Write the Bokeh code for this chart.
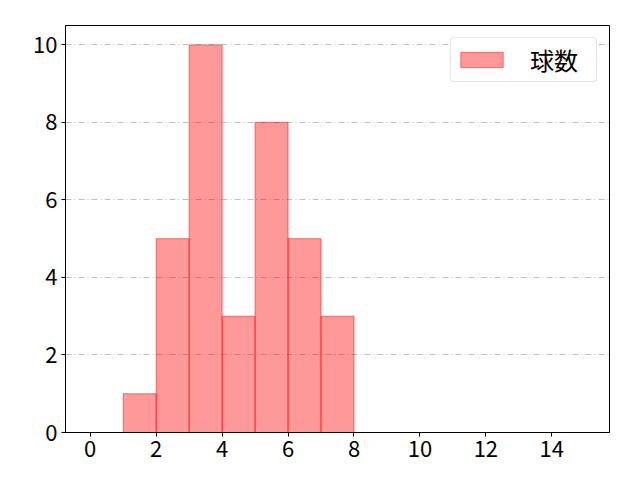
from bokeh.plotting import figure
from bokeh.models import Range1d, FixedTicker, Legend, LegendItem
from bokeh.embed import file_html
from bokeh.resources import INLINE

bin_edges = list(range(0, 16))
counts = [0, 1, 5, 10, 3, 8, 5, 3, 0, 0, 0, 0, 0, 0, 0]
series_name = "球数"
x_ticks = [0, 2, 4, 6, 8, 10, 12, 14]
y_ticks = [0, 2, 4, 6, 8, 10]

lefts = bin_edges[:-1]
rights = bin_edges[1:]

FONT = "Noto Sans CJK JP"

p = figure(width=640, height=480, output_backend="svg", toolbar_location=None,
           x_range=Range1d(-0.75, 15.75), y_range=Range1d(0, 10.5),
           min_border_left=65, min_border_right=31, min_border_top=25, min_border_bottom=48)

r = p.quad(left=lefts, right=rights, bottom=0, top=counts,
           fill_color="red", fill_alpha=0.4, line_color="red", line_alpha=0.5, line_width=1)

p.xgrid.visible = False
p.ygrid.grid_line_color = "#b0b0b0"
p.ygrid.grid_line_dash = "6 3 1 3"
p.ygrid.grid_line_width = 0.8

p.outline_line_color = "black"
p.outline_line_alpha = 1
p.outline_line_width = 1

for ax, ticks in ((p.xaxis[0], x_ticks), (p.yaxis[0], y_ticks)):
    ax.ticker = FixedTicker(ticks=ticks)
    ax.minor_tick_line_color = None
    ax.major_tick_out = 4
    ax.major_tick_in = 0
    ax.major_label_text_font = FONT
    ax.major_label_text_font_size = "22px"
    ax.major_label_text_color = "black"
    ax.axis_line_color = "black"
    ax.major_label_standoff = 4

p.background_fill_color = "white"
p.border_fill_color = "white"

legend = Legend(items=[LegendItem(label=series_name, renderers=[r])],
                location="top_right", label_text_font=FONT, label_text_font_size="24px",
                label_text_color="black",
                border_line_color="#cccccc", border_line_width=1, border_radius=4,
                background_fill_alpha=1, glyph_width=53, glyph_height=19,
                label_standoff=22, label_width=62, padding=4, margin=12)
p.add_layout(legend)

open("out.html", "w").write(file_html(p, INLINE))
